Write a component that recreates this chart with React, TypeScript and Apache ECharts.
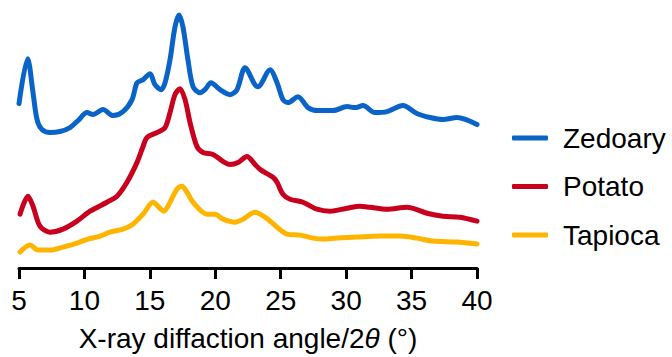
import React, { useEffect, useRef } from "react";
import * as echarts from "echarts";

// 2θ positions (degrees) and intensities (arbitrary units, curves offset vertically)
const zedoaryTheta = [5.0, 5.66, 6.07, 6.38, 6.76, 7.37, 8.13, 8.9, 9.51, 10.2, 10.65, 11.42, 12.18, 12.95, 13.64, 14.02, 14.48, 15.01, 15.39, 15.85, 16.16, 16.54, 16.92, 17.23, 17.53, 17.91, 18.3, 18.83, 19.21, 19.67, 20.36, 21.12, 21.66, 22.27, 23.03, 23.26, 24.18, 24.72, 25.17, 25.56, 26.32, 27.08, 27.85, 28.99, 30.07, 30.68, 31.29, 32.2, 33.12, 34.34, 35.41, 36.41, 37.4, 38.47, 40.0];
const zedoaryValues = [165, 210, 176, 149, 139, 136, 137, 141, 148, 156, 154, 159, 153, 157, 169, 186, 189, 195, 184, 179, 186, 209, 242, 254, 242, 209, 182, 176, 179, 186, 179, 174, 179, 201, 184, 182, 199, 186, 169, 166, 172, 161, 158, 158, 162, 161, 163, 156, 157, 163, 155, 151, 149, 151, 144];

const potatoTheta = [5.08, 5.69, 6.07, 6.6, 7.37, 8.36, 9.43, 10.43, 11.72, 12.49, 13.25, 14.02, 14.48, 14.78, 15.55, 16.16, 16.54, 16.92, 17.3, 17.69, 18.07, 18.6, 19.06, 19.82, 20.59, 21.12, 21.74, 22.42, 23.03, 23.42, 24.41, 24.72, 25.17, 25.71, 26.7, 27.77, 28.77, 30.07, 31.06, 31.82, 33.12, 34.65, 36.18, 37.4, 38.7, 40.0];
const potatoValues = [54, 72, 62, 42, 36, 39, 47, 57, 66, 72, 86, 106, 122, 131, 136, 141, 156, 174, 180, 169, 146, 122, 116, 114, 107, 104, 106, 112, 104, 99, 91, 86, 74, 69, 66, 59, 57, 60, 62, 61, 59, 61, 55, 52, 51, 47];

const tapiocaTheta = [5.08, 5.84, 6.45, 7.37, 8.36, 9.43, 10.27, 11.19, 11.95, 12.95, 13.71, 14.48, 15.24, 15.62, 16.08, 16.54, 17.07, 17.46, 17.84, 18.3, 19.37, 19.98, 20.59, 21.51, 22.12, 23.03, 23.8, 24.72, 25.48, 26.47, 27.47, 28.23, 29.3, 30.83, 32.59, 34.11, 35.41, 36.64, 38.47, 40.0];
const tapiocaValues = [16, 23, 18, 18, 21, 25, 29, 32, 36, 39, 44, 54, 66, 62, 57, 66, 79, 82, 76, 66, 54, 54, 49, 46, 49, 56, 51, 41, 34, 33, 30, 29, 30, 31, 32, 32, 30, 27, 26, 24];

const seriesNames = ["Zedoary", "Potato", "Tapioca"];
const seriesColors = ["#0A64C8", "#C8001E", "#FFB400"];
const xTicks = { min: 5, max: 40, interval: 5 };

const pair = (xs: number[], ys: number[]) => xs.map((x, i) => [x, ys[i]]);

export default function App() {
  const ref = useRef<HTMLDivElement>(null);
  useEffect(() => {
    if (!ref.current) return;
    const chart = echarts.init(ref.current, undefined, { renderer: "svg" });
    const font = "Liberation Sans, Arial, sans-serif";
    const datasets = [
      pair(zedoaryTheta, zedoaryValues),
      pair(potatoTheta, potatoValues),
      pair(tapiocaTheta, tapiocaValues),
    ];
    chart.setOption({
      animation: false,
      backgroundColor: "#ffffff",
      grid: { left: 19, right: 195, top: 0, bottom: 88, containLabel: false },
      legend: {
        orient: "vertical",
        left: 512,
        top: 124,
        padding: 0,
        itemWidth: 36,
        itemHeight: 5,
        itemGap: 20.5,
        icon: "roundRect",
        data: seriesNames,
        textStyle: {
          fontFamily: font,
          fontSize: 28,
          color: "#000",
          padding: [0, 0, 0, 10],
        },
      },
      xAxis: {
        type: "value",
        min: xTicks.min,
        max: xTicks.max,
        interval: xTicks.interval,
        splitLine: { show: false },
        axisLine: { show: true, lineStyle: { color: "#000", width: 3 } },
        axisTick: { show: true, length: 11, lineStyle: { color: "#000", width: 3 } },
        axisLabel: { fontFamily: font, fontSize: 28, color: "#000", margin: 18 },
        name: "X-ray diffaction angle/2{i|θ} (°)",
        nameLocation: "middle",
        nameGap: 56,
        nameTextStyle: {
          fontFamily: font,
          fontSize: 28,
          color: "#000",
          rich: {
            i: { fontFamily: font, fontSize: 28, fontStyle: "italic", color: "#000" },
          },
        },
      },
      yAxis: {
        type: "value",
        min: 0,
        max: 269,
        show: false,
      },
      series: seriesNames.map((name, i) => ({
        name,
        type: "line",
        data: datasets[i],
        smooth: 0.3,
        showSymbol: false,
        symbol: "none",
        color: seriesColors[i],
        lineStyle: { color: seriesColors[i], width: 5, cap: "round", join: "round" },
      })),
    });
    return () => chart.dispose();
  }, []);
  return (
    <div
      ref={ref}
      style={{ position: "fixed", left: 0, top: 0, width: 672, height: 357 }}
    />
  );
}
